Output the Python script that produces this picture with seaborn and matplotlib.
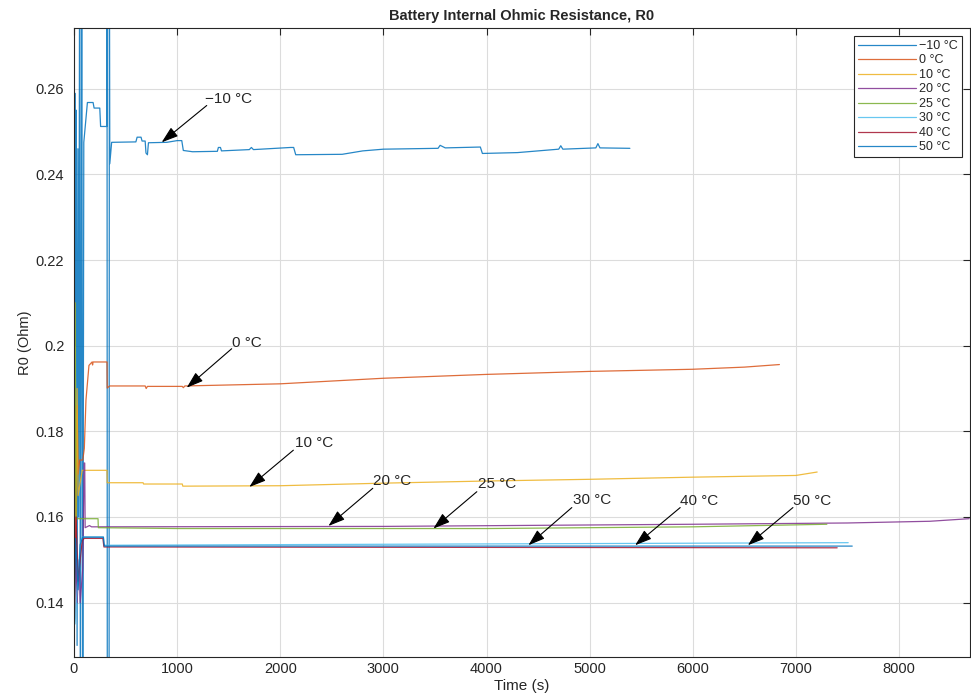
import numpy as np
import pandas as pd
import matplotlib
matplotlib.use("Agg")
import matplotlib.pyplot as plt
import seaborn as sns

# breakpoints: time (s) and R0 (Ohm)
t_m10 = [0, 8, 15, 22, 30, 38, 45, 55, 62, 75, 85, 95, 130, 185, 195, 250, 258, 318, 320, 323, 340, 343, 347,
         365, 600, 612, 650, 660, 690, 698, 712, 722, 900, 1000, 1045, 1060, 1150, 1390, 1400, 1420, 1430,
         1700, 1720, 1740, 2100, 2130, 2150, 2600, 2800, 3000, 3530, 3550, 3600, 3940, 3960, 4300, 4700,
         4720, 4740, 5060, 5080, 5100, 5390]
r_m10 = [0.128, 0.259, 0.200, 0.255, 0.130, 0.246, 0.160, 0.300, 0.100, 0.300, 0.100, 0.2475, 0.2568, 0.2568,
         0.2555, 0.2555, 0.2512, 0.2512, 0.300, 0.100, 0.100, 0.300, 0.2425,
         0.2475, 0.2476, 0.2487, 0.2487, 0.2478, 0.2478, 0.2450, 0.2446, 0.2474, 0.2475, 0.2479, 0.2479,
         0.2456, 0.2453, 0.2454, 0.2463, 0.2463, 0.2455, 0.2458, 0.2463, 0.2458, 0.2463, 0.2463, 0.2446,
         0.2447, 0.2455, 0.2459, 0.2461, 0.2468, 0.2462, 0.2464, 0.2449, 0.2451, 0.2459, 0.2467, 0.2459,
         0.2462, 0.2472, 0.2462, 0.2461]

t_0 = [0, 10, 20, 30, 40, 55, 85, 100, 116, 145, 175, 180, 185, 320, 322, 345, 690, 700, 712, 1050, 1060,
       1075, 2000, 3000, 4000, 5000, 6000, 6500, 6840]
r_0 = [0.130, 0.186, 0.150, 0.186, 0.170, 0.1733, 0.1733, 0.1760, 0.1873, 0.1954, 0.1962, 0.1955, 0.1962,
       0.1962, 0.1901, 0.1906, 0.1906, 0.1900, 0.1905, 0.1905, 0.1902, 0.1906, 0.1911, 0.1924, 0.1933,
       0.1940, 0.1945, 0.1950, 0.1956]

t_10 = [0, 10, 20, 30, 40, 60, 80, 320, 322, 670, 675, 1050, 1055, 2000, 3000, 4000, 5000, 6000, 7000, 7206]
r_10 = [0.140, 0.210, 0.160, 0.190, 0.165, 0.168, 0.1709, 0.1709, 0.1680, 0.1680, 0.1677, 0.1677, 0.1672,
        0.1673, 0.1679, 0.1684, 0.1688, 0.1693, 0.1697, 0.1705]

t_20 = [0, 15, 30, 50, 60, 85, 98, 104, 108, 150, 170, 3000, 6000, 7500, 8300, 8680]
r_20 = [0.130, 0.155, 0.140, 0.150, 0.140, 0.148, 0.1726, 0.1726, 0.1575, 0.1580, 0.1577, 0.1578, 0.1583,
        0.1586, 0.1590, 0.1596]

t_25 = [0, 10, 20, 30, 233, 236, 1000, 4000, 6000, 7300]
r_25 = [0.130, 0.210, 0.160, 0.1596, 0.1596, 0.1575, 0.1573, 0.1573, 0.1577, 0.1583]

t_30 = [0, 10, 30, 50, 60, 80, 285, 290, 7507]
r_30 = [0.160, 0.135, 0.143, 0.150, 0.1535, 0.1553, 0.1553, 0.1534, 0.1540]

t_40 = [0, 20, 40, 60, 80, 100, 280, 290, 7400]
r_40 = [0.130, 0.160, 0.145, 0.150, 0.1545, 0.1550, 0.1550, 0.1530, 0.1528]

t_50 = [0, 15, 40, 60, 85, 285, 295, 7546]
r_50 = [0.135, 0.155, 0.143, 0.1535, 0.1553, 0.1553, 0.1532, 0.1532]

labels = ["\u221210 \u00b0C", "0 \u00b0C", "10 \u00b0C", "20 \u00b0C", "25 \u00b0C", "30 \u00b0C", "40 \u00b0C", "50 \u00b0C"]
times = [t_m10, t_0, t_10, t_20, t_25, t_30, t_40, t_50]
values = [r_m10, r_0, r_10, r_20, r_25, r_30, r_40, r_50]

# annotation text position, arrow tail, arrow head (time, R0)
ann_text = [(1494, 0.2577), (1678, 0.2006), (2328, 0.1773), (3085, 0.1684), (4100, 0.1678),
            (5024, 0.1639), (6060, 0.1638), (7153, 0.1638)]
ann_tail = [(1287, 0.2561), (1529, 0.1993), (2127, 0.1756), (2897, 0.1667), (3906, 0.1659),
            (4827, 0.1622), (5878, 0.1622), (6971, 0.1622)]
ann_head = [(850, 0.2475), (1093, 0.1902), (1700, 0.1670), (2467, 0.1579), (3485, 0.1573),
            (4406, 0.1534), (5441, 0.1534), (6534, 0.1534)]

matlab_colors = ["#0072BD", "#D95319", "#EDB120", "#7E2F8E", "#77AC30", "#4DBEEE", "#A2142F", "#0072BD"]

frames = []
for lab, t, r in zip(labels, times, values):
    frames.append(pd.DataFrame({"t": t, "R": r, "temp": lab}))
df = pd.concat(frames, ignore_index=True)

sns.set_style("white")
plt.rcParams["font.family"] = ["Liberation Sans", "DejaVu Sans"]

fig = plt.figure(figsize=(9.71, 7.0), dpi=100)
ax = fig.add_axes([74 / 971, 1 - 657 / 700, (970 - 74) / 971, (657 - 28) / 700])

sns.lineplot(data=df, x="t", y="R", hue="temp", hue_order=labels, palette=matlab_colors,
             sort=False, estimator=None, linewidth=0.9, alpha=0.85, ax=ax)

for tail, head in zip(ann_tail, ann_head):
    ax.annotate("", xy=head, xytext=tail,
                arrowprops=dict(arrowstyle="-|>,head_length=0.6,head_width=0.2",
                                color="black", lw=0.8, mutation_scale=17, shrinkA=0, shrinkB=0))
for txt, pos in zip(labels, ann_text):
    ax.text(pos[0], pos[1], txt, fontsize=11, ha="center", va="center", color="#262626")

ax.set_xlim(0, 8688)
ax.set_ylim(0.1273, 0.2742)
ax.set_xticks(np.arange(0, 8001, 1000))
ax.set_yticks([0.14, 0.16, 0.18, 0.2, 0.22, 0.24, 0.26])
ax.set_yticklabels(["0.14", "0.16", "0.18", "0.2", "0.22", "0.24", "0.26"])
ax.grid(True, color="#dcdcdc", linewidth=0.8)
ax.tick_params(direction="in", length=5, width=0.8, colors="#262626", labelsize=10.5,
               top=True, right=True, labelcolor="#262626")
ax.tick_params(axis="y", pad=7)
for s in ax.spines.values():
    s.set_color("#262626")
    s.set_linewidth(0.8)

ax.set_title("Battery Internal Ohmic Resistance, R0", fontsize=10.5, fontweight="bold", pad=6)
ax.set_xlabel("Time (s)", fontsize=11, color="#262626", labelpad=2)
ax.set_ylabel("R0 (Ohm)", fontsize=10.5, color="#262626", labelpad=3)

leg = ax.legend(loc="upper right", bbox_to_anchor=(0.991, 0.987), borderaxespad=0, fontsize=9,
                frameon=True, fancybox=False, edgecolor="#262626", framealpha=1,
                handlelength=4.6, handletextpad=0.3, labelspacing=0.2, borderpad=0.3)
leg.get_frame().set_linewidth(0.8)

fig.savefig("out.png", dpi=100)
